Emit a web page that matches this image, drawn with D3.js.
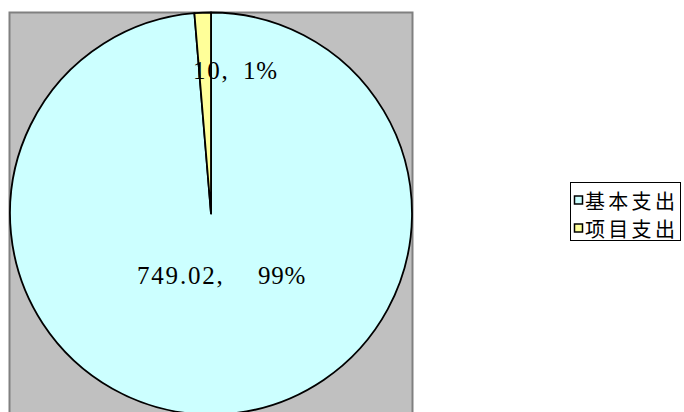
<!DOCTYPE html>
<html><head><meta charset="utf-8">
<script src="https://cdn.jsdelivr.net/npm/d3@7"></script>
<style>html,body{margin:0;padding:0;background:#fff;}</style>
</head><body>
<svg id="c" width="684" height="412"></svg>
<script>
const categories = ["基本支出", "项目支出"];
const values = [749.02, 10];
const percentLabels = ["99%", "1%"];
const colors = ["#ccffff", "#ffff99"];

const svg = d3.select("#c");
// plot area
svg.append("rect").attr("x", 9.5).attr("y", 12.5).attr("width", 403).attr("height", 410)
  .attr("fill", "#c0c0c0").attr("stroke", "#808080").attr("stroke-width", 2);

const cx = 211, cy = 213.5, r = 201;
const pie = d3.pie().sort(null).value(d => d)(values);
const arc = d3.arc().innerRadius(0).outerRadius(r);
const g = svg.append("g").attr("transform", `translate(${cx},${cy})`);
g.selectAll("path").data(pie).enter().append("path")
  .attr("d", arc).attr("fill", (d, i) => colors[i])
  .attr("stroke", "#000").attr("stroke-width", 1.8).attr("stroke-linejoin", "round");

// label anchors: [start of value, start of percent, center y]
const labelPos = [[137, 258, 275], [193, 243, 70]];
const lbl = svg.selectAll("g.lbl").data(values).enter().append("g").attr("class", "lbl");
lbl.append("text")
  .attr("x", (d, i) => labelPos[i][0]).attr("y", (d, i) => labelPos[i][2])
  .attr("dominant-baseline", "central")
  .attr("font-family", "'Liberation Serif', serif").attr("font-size", 25)
  .attr("letter-spacing", 1.8).attr("fill", "#000")
  .text(d => `${d},`);
lbl.append("text")
  .attr("x", (d, i) => labelPos[i][1]).attr("y", (d, i) => labelPos[i][2])
  .attr("dominant-baseline", "central")
  .attr("font-family", "'Liberation Serif', serif").attr("font-size", 25)
  .attr("letter-spacing", 0.8).attr("fill", "#000")
  .text((d, i) => percentLabels[i]);

// legend
const lg = svg.append("g");
lg.append("rect").attr("x", 570.5).attr("y", 182.5).attr("width", 110).attr("height", 58)
  .attr("fill", "#fff").attr("stroke", "#000").attr("stroke-width", 1);
categories.forEach((c, i) => {
  const y = 200 + i * 28;
  lg.append("rect").attr("x", 574.5).attr("y", y - 4).attr("width", 8).attr("height", 8)
    .attr("fill", colors[i]).attr("stroke", "#000").attr("stroke-width", 1.5);
  lg.append("text").attr("x", 585).attr("y", y).attr("dominant-baseline", "central")
    .attr("font-family", "'Noto Sans CJK SC', sans-serif").attr("font-size", 20)
    .attr("letter-spacing", 3.3).attr("fill", "#000").text(c);
});
</script>
</body></html>
